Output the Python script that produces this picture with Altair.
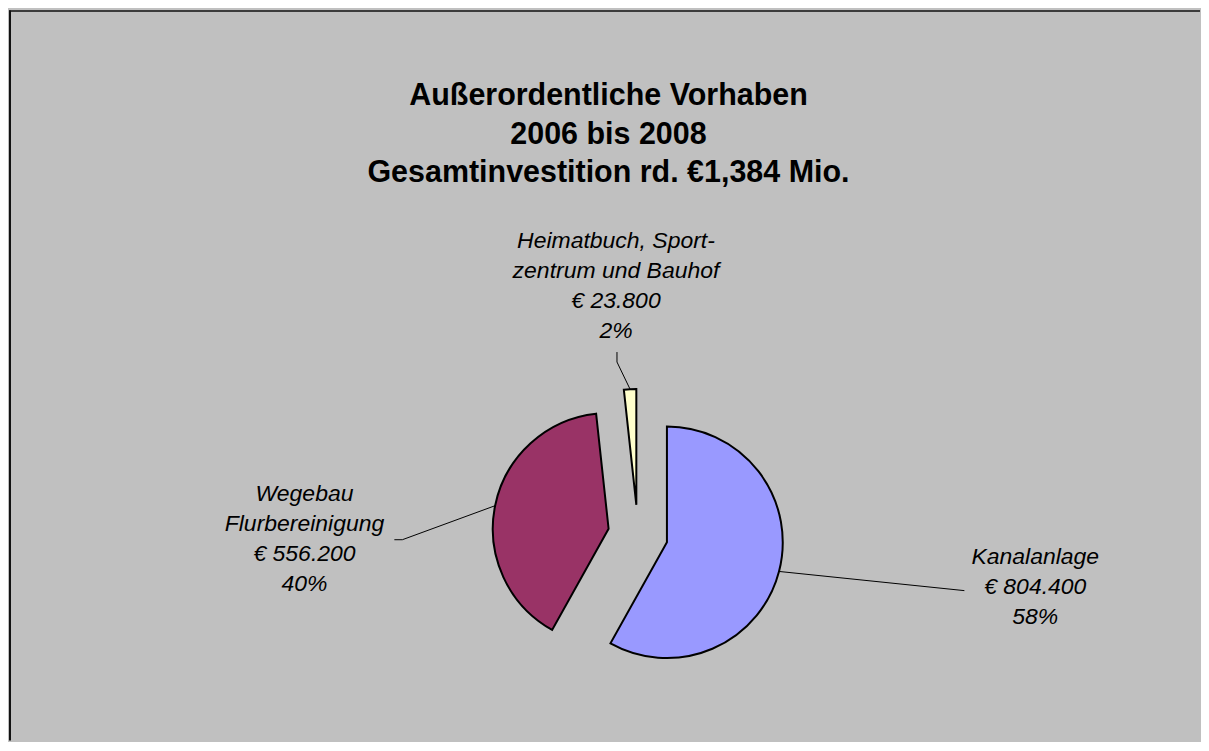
import math
import altair as alt
import pandas as pd

# ---- data ----
categories = ["Kanalanlage", "Wegebau\nFlurbereinigung", "Heimatbuch, Sport-\nzentrum und Bauhof"]
values = [804400, 556200, 23800]
colors = ["#9999FF", "#993366", "#FFFFCC"]
title_lines = ["Außerordentliche Vorhaben", "2006 bis 2008", "Gesamtinvestition rd. €1,384 Mio."]

total = sum(values)
amount_labels = ["€ " + f"{v:,}".replace(",", ".") for v in values]
pct_labels = [f"{round(v / total * 100)}%" for v in values]

# ---- layout (pixels inside the chart) ----
W, H = 1193, 733
CX, CY = 630, 527          # pie centre
R = 116                    # pie radius
EXPLODE = 30               # slice offset
FONT = "Liberation Sans"
label_x = [1028, 296, 608]
label_y = [556, 493, 240]  # baseline of first label line
# leader line elbow / end points
leader_pts = [
    [(957, 583)],
    [(394, 532), (386, 532)],
    [(609, 354), (609, 344)],
]

xs = alt.Scale(domain=[0, W], range=[0, W], nice=False, zero=False)
ys = alt.Scale(domain=[0, H], range=[0, H], nice=False, zero=False)

pie_df = pd.DataFrame({"idx": list(range(len(values))), "cat": categories, "value": values})

pie = (
    alt.Chart(pie_df)
    .transform_window(cum="sum(value)", sort=[alt.SortField("idx", order="ascending")], frame=[None, 0])
    .transform_calculate(
        t0="datum.cum - datum.value",
        t1="datum.cum",
        mid=f"(datum.cum - datum.value / 2) / {total} * 2 * PI",
    )
    .transform_calculate(
        px=f"{CX} + {EXPLODE} * sin(datum.mid)",
        py=f"{CY} - {EXPLODE} * cos(datum.mid)",
    )
    .mark_arc(radius=R, stroke="black", strokeWidth=2, strokeJoin="miter")
    .encode(
        theta=alt.Theta("t0:Q", scale=alt.Scale(domain=[0, total], range=[0, 2 * math.pi]), stack=False),
        theta2="t1:Q",
        x=alt.X("px:Q", scale=xs, axis=None, stack=False),
        y=alt.Y("py:Q", scale=ys, axis=None, stack=False),
        color=alt.Color("cat:N", scale=alt.Scale(domain=categories, range=colors), legend=None),
    )
)

# leader lines: start on the slice edge at its mid-angle, end at the label
rows = []
cum = 0
for i, v in enumerate(values):
    mid = (cum + v / 2) / total * 2 * math.pi
    cum += v
    sx = CX + (EXPLODE + R) * math.sin(mid)
    sy = CY - (EXPLODE + R) * math.cos(mid)
    rows.append({"cat": categories[i], "k": 0, "px": sx, "py": sy})
    for k, (lx, ly) in enumerate(leader_pts[i], start=1):
        rows.append({"cat": categories[i], "k": k, "px": lx, "py": ly})
lead_df = pd.DataFrame(rows)

leaders = (
    alt.Chart(lead_df)
    .mark_line(color="#000000", strokeWidth=1)
    .encode(
        x=alt.X("px:Q", scale=xs, axis=None, stack=False),
        y=alt.Y("py:Q", scale=ys, axis=None, stack=False),
        detail="cat:N",
        order=alt.Order("k:Q"),
    )
)

lab_df = pd.DataFrame({
    "label": [f"{c}\n{a}\n{p}" for c, a, p in zip(categories, amount_labels, pct_labels)],
    "lx": label_x,
    "ly": label_y,
})
labels = (
    alt.Chart(lab_df)
    .mark_text(font=FONT, fontSize=23, fontStyle="italic", lineBreak="\n", lineHeight=30,
               align="center", baseline="alphabetic", color="black")
    .encode(
        x=alt.X("lx:Q", scale=xs, axis=None, stack=False),
        y=alt.Y("ly:Q", scale=ys, axis=None, stack=False),
        text="label:N",
    )
)

title = (
    alt.Chart(pd.DataFrame({"t": ["\n".join(title_lines)]}))
    .mark_text(font=FONT, fontSize=30.5, fontWeight="bold", lineBreak="\n", lineHeight=38.5,
               align="center", baseline="alphabetic", color="black")
    .encode(x=alt.value(600.5), y=alt.value(97), text="t:N")
)

border_top = alt.Chart(pd.DataFrame({"a": [0]})).mark_rule(color="#111111", strokeWidth=1.5).encode(
    x=alt.value(0), x2=alt.value(W), y=alt.value(2.5)
)
border_left = alt.Chart(pd.DataFrame({"a": [0]})).mark_rule(color="#111111", strokeWidth=2).encode(
    x=alt.value(1), y=alt.value(2), y2=alt.value(H)
)

chart = (
    alt.layer(pie, leaders, labels, title, border_top, border_left)
    .properties(width=W, height=H, background="#C0C0C0", padding=0)
    .configure_view(stroke=None, fill="#C0C0C0")
)

chart.save("out.html", embed_options={"renderer": "svg", "actions": False})
